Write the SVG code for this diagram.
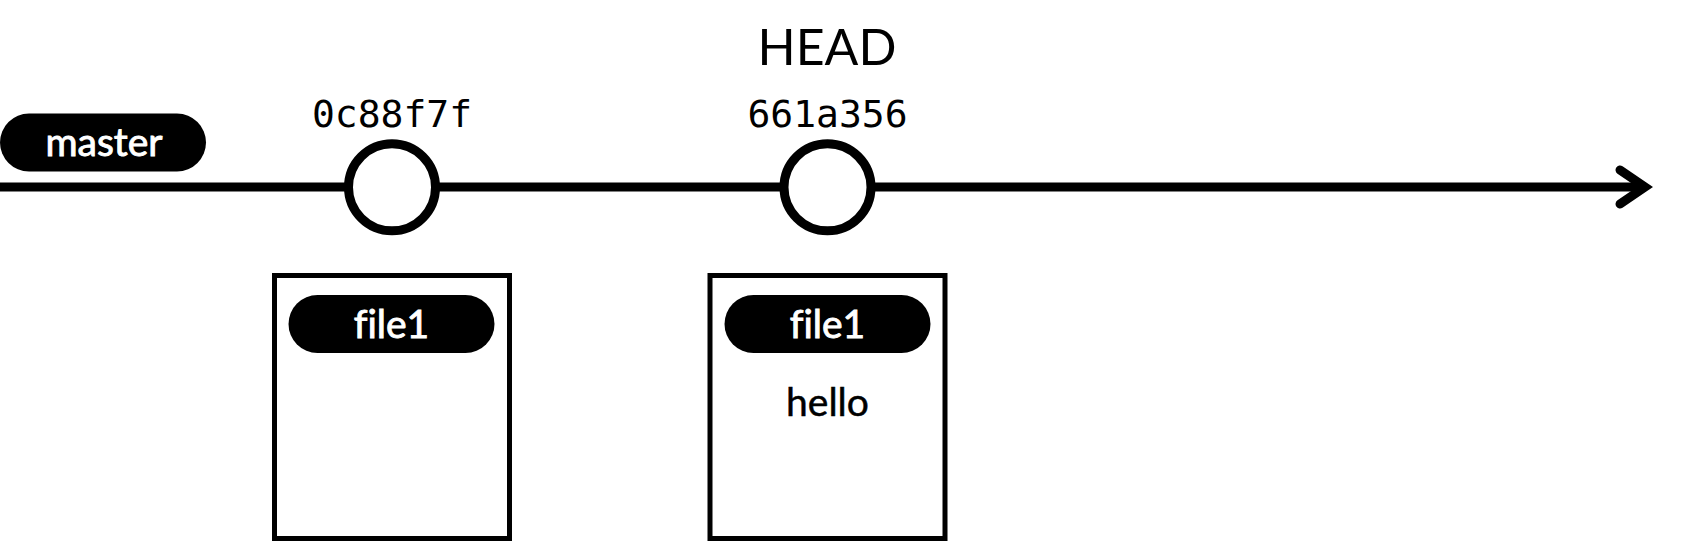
<svg xmlns="http://www.w3.org/2000/svg" width="1695" height="541" viewBox="0 0 1695 541">
<style>
.pill{fill:#000}
.ptxt{fill:#fff;stroke:#fff;stroke-width:0.9;font-family:Lato,"Open Sans","Liberation Sans",sans-serif;font-size:39px;font-weight:400;text-anchor:middle;font-variant-ligatures:none}
.txt{fill:#000;font-family:Lato,"Open Sans","Liberation Sans",sans-serif;text-anchor:middle;font-variant-ligatures:none}
.mono{fill:#000;font-family:"DejaVu Sans Mono","Liberation Mono",monospace;font-size:38px;text-anchor:middle}
.commit{fill:#fff;stroke:#000;stroke-width:9}
.box{fill:#fff;stroke:#000;stroke-width:5}
.line{fill:none;stroke:#000;stroke-width:9}
</style>
<rect width="1695" height="541" fill="#fff"/>
<g id="connectors">
<line class="line" x1="0" y1="187" x2="1646" y2="187"/>
<path class="line" d="M1620,170 L1645,187 L1620,204" stroke-linecap="round" stroke-linejoin="miter"/>
</g>
<g id="master">
<rect class="pill" x="0" y="113.5" width="206" height="58" rx="29"/>
<text class="ptxt" x="104" y="156">master</text>
</g>
<g id="head">
<text class="txt" x="827" y="65" font-size="50">HEAD</text>
</g>
<g id="commit1">
<text class="mono" x="392" y="127.3">0c88f7f</text>
<circle class="commit" cx="392" cy="187.3" r="43.5"/>
</g>
<g id="commit2">
<text class="mono" x="827.5" y="127.3">661a356</text>
<circle class="commit" cx="827.5" cy="187.3" r="43.5"/>
</g>
<g id="tree1">
<rect class="box" x="274.5" y="275.5" width="235" height="263"/>
<rect class="pill" x="288.5" y="295" width="206" height="58" rx="29"/>
<text class="ptxt" x="391.5" y="338.3">file1</text>
</g>
<g id="tree2">
<rect class="box" x="710" y="275.5" width="235" height="263"/>
<rect class="pill" x="724.5" y="295" width="206" height="58" rx="29"/>
<text class="ptxt" x="827.5" y="338.3">file1</text>
<text class="txt" x="827.5" y="415.7" font-size="39" stroke="#000" stroke-width="0.5">hello</text>
</g>
</svg>
